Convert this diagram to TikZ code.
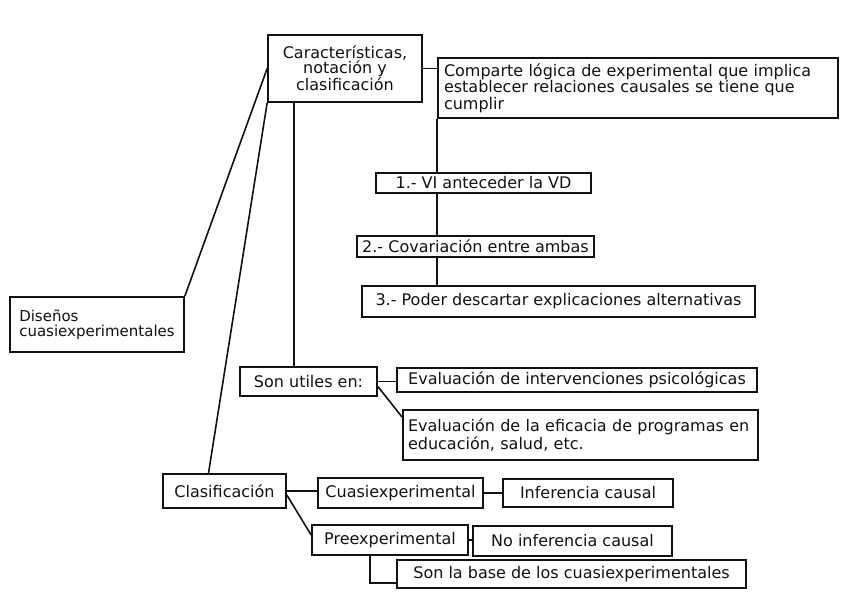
\documentclass[tikz,border=0pt]{standalone}
\usepackage{fontspec}
\setmainfont{DejaVu Sans}
\usetikzlibrary{calc}
\definecolor{inkline}{HTML}{111111}
\tikzset{
  card/.style={rectangle, draw=inkline, line width=1.7pt, inner xsep=5pt,
               inner ysep=1pt, text=inkline, font=\fontsize{16pt}{13pt}\selectfont},
  boxsize/.style 2 args={minimum width=#1pt, minimum height=#2pt},
  link/.style={draw=inkline, line width=1.6pt},
}
\def\trunk{-51pt}

\begin{document}
\begin{tikzpicture}[x=1pt, y=-1pt]
\useasboundingbox (0,0) rectangle (848,599);

% Root and characteristics
\node[card, boxsize={174}{55}, align=left, inner xsep=4pt, font=\fontsize{15pt}{15pt}\selectfont]
  (design) at (97,324.5) {Diseños\\cuasiexperimentales};
\node[card, boxsize={154}{67}, align=center, font=\fontsize{16pt}{15pt}\selectfont]
  (traits) at (345,68.5) {Características,\\notación y\\clasificación};
\node[card, boxsize={400}{60}, text width=388pt, align=left, inner xsep=6pt]
  (logic) at (638,88) {Comparte lógica de experimental que implica\\establecer relaciones causales se tiene que\\cumplir};

% Conditions
\node[card, boxsize={215}{20}] (cond1) at (483.5,183) {1.- VI anteceder la VD};
\node[card, boxsize={219}{21}] (cond2) at (475.5,246.5) {2.- Covariación entre ambas};
\node[card, boxsize={393}{31}] (cond3) at (558.5,301.5) {3.- Poder descartar explicaciones alternativas};

% Uses
\node[card, boxsize={137}{29}] (uses) at (308.5,381.5) {Son utiles en:};
\node[card, boxsize={360}{24}] (use1) at (577,380) {Evaluación de intervenciones psicológicas};
\node[card, boxsize={355}{50}, text width=345pt, align=left]
  (use2) at (580.5,435) {Evaluación de la eficacia de programas en\\educación, salud, etc.};

% Classification
\node[card, boxsize={123}{34}] (kinds) at (224.5,491) {Clasificación};
\node[card, boxsize={165}{30}] (quasi) at (400.5,493) {Cuasiexperimental};
\node[card, boxsize={170}{28}] (infer) at (588,493) {Inferencia causal};
\node[card, boxsize={156}{30}] (pre) at (390,540) {Preexperimental};
\node[card, boxsize={199}{30}] (noinfer) at (572.5,541) {No inferencia causal};
\node[card, boxsize={349}{28}] (base) at (571.5,574) {Son la base de los cuasiexperimentales};

% Root to topics
\draw[link] (design.north east) -- (traits.west);
\draw[link] (traits.south west) -- ([xshift=-16pt]kinds.north);
\draw[link] ([xshift=\trunk]traits.south) -- ([xshift=\trunk]traits.south |- uses.north);

% Logic and conditions
\draw[link] (traits.east) -- (traits.east -| logic.west);
\draw[link] (logic.south west) -- (logic.south west |- cond1.north);
\draw[link] (logic.south west |- cond1.south) -- (logic.south west |- cond2.north);
\draw[link] (logic.south west |- cond2.south) -- (logic.south west |- cond3.north);

% Uses
\draw[link] (uses.east) -- (uses.east -| use1.west);
\draw[link] ([yshift=-5pt]uses.east) -- ([yshift=-8pt]use2.north west);

% Classification
\draw[link] (kinds.east) -- (kinds.east -| quasi.west);
\draw[link] (quasi.east) -- (quasi.east -| infer.west);
\draw[link] ([yshift=-4pt]kinds.east) -- ([yshift=5pt]pre.west);
\draw[link] (pre.east) -- (pre.east -| noinfer.west);
\draw[link] ([xshift=-20pt]pre.south) |- ([yshift=-9pt]base.west);

\end{tikzpicture}
\end{document}
